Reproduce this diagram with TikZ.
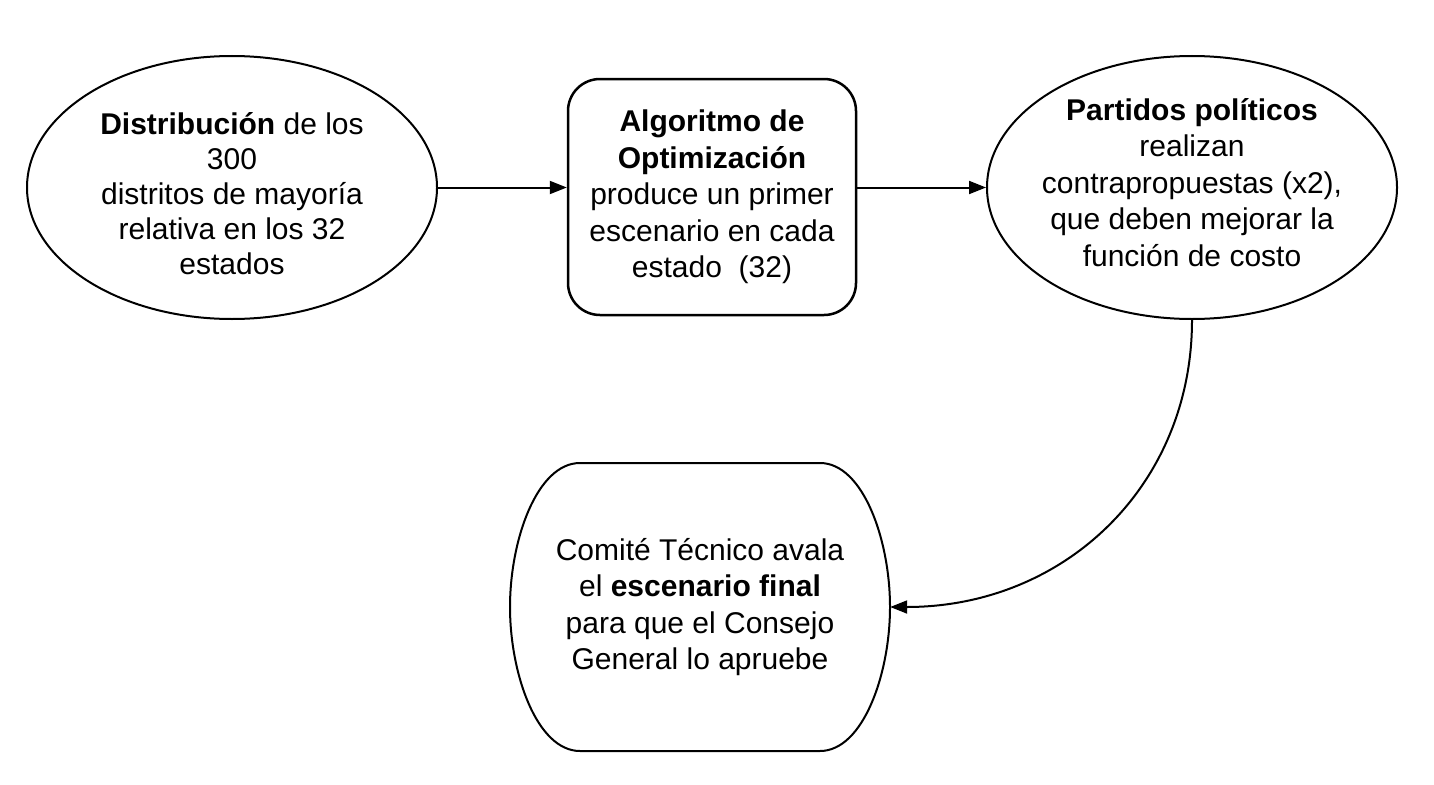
\documentclass[tikz,border=0pt]{standalone}
\usepackage{fontspec}
\setmainfont{Liberation Sans}
\usetikzlibrary{positioning,shapes.geometric,arrows.meta}
\tikzstyle{diagram} = [x = 1pt, y = -1pt, every node/.style={align=center, font=\fontsize{30}{36.5}\selectfont}]
\tikzstyle{stageEllipse} = [draw, ellipse, line width=2pt, minimum width=410pt, minimum height=263pt, inner sep=0pt]
\tikzstyle{stageBox} = [draw, rectangle, rounded corners=32pt, line width=2.5pt, minimum width=288pt, minimum height=236pt, inner sep=0pt]
\tikzstyle{finalArea} = [rectangle, minimum width=380pt, minimum height=288pt, inner sep=0pt]
\tikzstyle{finalOutline} = [draw, line width=2pt]
\tikzstyle{flowArrow} = [line width=2pt, -{Triangle[length=17pt, width=13pt]}]
\newcommand{\finalShape}{\draw [finalOutline] (580,463) -- (820,463) .. controls (863,463) and (890,540) .. (890,607) .. controls (890,674) and (863,751) .. (820,751) -- (580,751) .. controls (537,751) and (510,674) .. (510,607) .. controls (510,540) and (537,463) .. (580,463) -- cycle;}

\begin{document}
\begin{tikzpicture}[diagram]
            \fill [white] (0,0) rectangle (1434,784);
            \useasboundingbox (0,0) rectangle (1434,784);

            \node [stageEllipse] (districts) at (232,187.5) {};
            \node [font=\fontsize{30}{35}\selectfont, yshift=-6pt] (districtsText) at (districts.center) {\textbf{Distribución} de los\\300\\distritos de mayoría\\relativa en los 32\\estados};

            \node [stageBox] (algorithm) at (712,197) {\textbf{Algoritmo de}\\\textbf{Optimización}\\produce un primer\\escenario en cada\\estado~~(32)};

            \node [stageEllipse] (parties) at (1192,187.5) {};
            \node [yshift=5pt] (partiesText) at (parties.center) {\textbf{Partidos políticos}\\realizan\\contrapropuestas (x2),\\que deben mejorar la\\función de costo};

            \finalShape
            \node [finalArea] (approval) at (700,607) {Comité Técnico avala\\el \textbf{escenario final}\\para que el Consejo\\General lo apruebe};

            \draw [flowArrow] (districts.east) -- (districts.east -| algorithm.west);
            \draw [flowArrow] (parties.west -| algorithm.east) -- (parties.west);
            \draw [flowArrow] (parties.south) .. controls +(0,166) and +(174,0) .. (approval.east);
          \end{tikzpicture}
\end{document}
